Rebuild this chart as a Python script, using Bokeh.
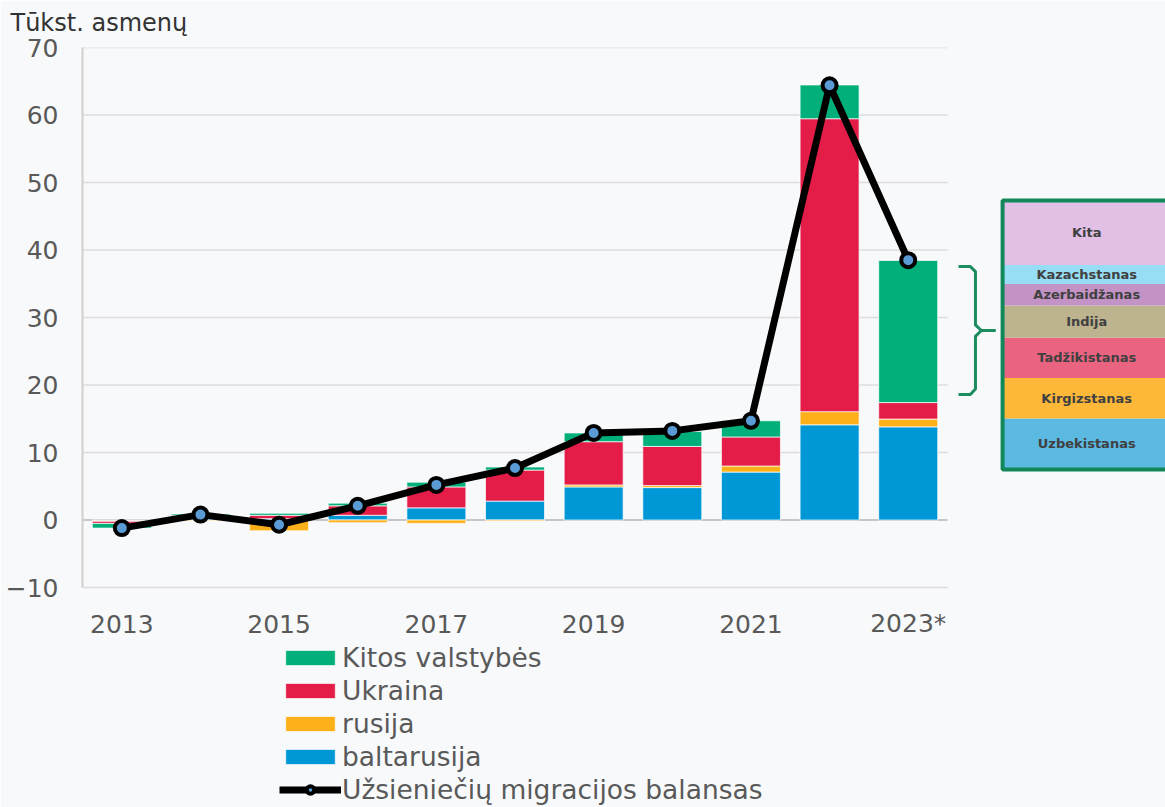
import numpy as np
from bokeh.plotting import figure
from bokeh.models import Range1d, FixedTicker, Legend, LegendItem
from bokeh.core.properties import value
from bokeh.embed import file_html
from bokeh.resources import INLINE

# ---------------- data ----------------
years = [2013, 2014, 2015, 2016, 2017, 2018, 2019, 2020, 2021, 2022, 2023]
baltarusija = [-0.1, 0.2, 0.2, 0.7, 1.8, 2.8, 4.9, 4.8, 7.1, 14.1, 13.8]
rusija = [-0.1, -0.1, -1.6, -0.4, -0.5, -0.15, 0.3, 0.3, 0.9, 1.95, 1.15]
ukraina = [-0.3, 0.5, 0.5, 1.4, 3.1, 4.6, 6.4, 5.8, 4.3, 43.4, 2.45]
kitos = [-0.7, 0.2, 0.3, 0.4, 0.7, 0.45, 1.3, 2.2, 2.4, 5.0, 21.05]
balansas = [-1.2, 0.8, -0.7, 2.1, 5.2, 7.7, 12.9, 13.2, 14.7, 64.4, 38.5]

yticks = [-10, 0, 10, 20, 30, 40, 50, 60, 70]
xticks = [2013, 2015, 2017, 2019, 2021, 2023]
xtick_labels = ["2013", "2015", "2017", "2019", "2021", "2023*"]
y_overrides = {-10: "\u221210"}

box_labels = ["Uzbekistanas", "Kirgizstanas", "Tadžikistanas", "Indija",
              "Azerbaidžanas", "Kazachstanas", "Kita"]
box_shares = [19, 15, 15, 12, 8, 7, 24]
box_colors = ["#5BB9E2", "#FDB83A", "#EA6482", "#BDB38F",
              "#C293C4", "#97DDF5", "#E2C0E6"]

# ---------------- style ----------------
C_GREEN = "#00AF7A"
C_RED = "#E31C48"
C_ORANGE = "#FDB01A"
C_BLUE = "#0097D6"
BG = "#f8f9fb"
FONT = "DejaVu Sans"
TXT = "#595959"

W, H = 1165, 807
LEFT, TOP = 82, 47
PX_PER_YEAR = 78.64
PX_PER_UNIT = 6.75
FRAME_W = W - LEFT
FRAME_H = H - TOP

p = figure(width=W, height=H, output_backend="svg", toolbar_location=None,
           x_range=Range1d(2012.5, 2012.5 + FRAME_W / PX_PER_YEAR),
           y_range=Range1d(70 - FRAME_H / PX_PER_UNIT, 70),
           min_border_left=LEFT, min_border_right=0, min_border_top=TOP,
           min_border_bottom=0)
p.background_fill_color = BG
p.border_fill_color = BG
p.outline_line_color = None
p.xgrid.visible = False
p.ygrid.visible = False
p.xaxis.visible = False

# title
p.title.text = "Tūkst. asmenų"
p.title.align = "left"
p.title.vertical_align = "top"
p.title.offset = -72
p.title.standoff = 17
p.title.text_line_height = 0.8
p.title.text_font = FONT
p.title.text_font_size = "24px"
p.title.text_font_style = "normal"
p.title.text_color = "#333333"

# y axis
p.yaxis.ticker = FixedTicker(ticks=yticks)
p.yaxis.bounds = (-10, 70)
p.yaxis.major_label_overrides = y_overrides
p.yaxis.axis_line_color = "#d0d0d0"
p.yaxis.axis_line_width = 2
p.yaxis.major_tick_line_color = None
p.yaxis.minor_tick_line_color = None
p.yaxis.major_label_standoff = 18
p.yaxis.major_label_text_font = FONT
p.yaxis.major_label_text_font_size = "25px"
p.yaxis.major_label_text_color = TXT

# x tick labels under the -10 line
p.text(x=xticks, y=[-10] * len(xticks), text=xtick_labels, y_offset=36,
       text_font=value(FONT), text_font_size="25px", text_color=TXT,
       text_align="center", text_baseline="middle")

# gridlines limited to the chart part
grid_colors = ["#c6c6c6" if t == 0 else "#dcdcdc" for t in yticks]
grid_widths = [2 if t == 0 else 1.5 for t in yticks]
p.segment(x0=[2012.5] * len(yticks), x1=[2023.5] * len(yticks), y0=yticks, y1=yticks,
          line_color=grid_colors, line_width=grid_widths)

# stacked bars
series = [("baltarusija", baltarusija, C_BLUE), ("rusija", rusija, C_ORANGE),
          ("Ukraina", ukraina, C_RED), ("Kitos valstybės", kitos, C_GREEN)]
n = len(years)
pos = np.zeros(n)
neg = np.zeros(n)
bar_r = {}
for name, vals, col in series:
    v = np.array(vals, dtype=float)
    bottom = np.where(v >= 0, pos, neg)
    top = bottom + v
    pos = np.where(v >= 0, top, pos)
    neg = np.where(v < 0, top, neg)
    bar_r[name] = p.vbar(x=years, bottom=bottom, top=top, width=0.75,
                         fill_color=col, line_color="white", line_alpha=0.7,
                         line_width=1)

# balance line
line_r = p.line(years, balansas, line_color="black", line_width=7, line_join="round")
sc_r = p.scatter(years, balansas, size=14, fill_color="#5B9BD5",
                 line_color="black", line_width=4)

# breakdown box for "Kitos valstybės" 2023
BOX_L, BOX_R, BOX_B, BOX_T = 2024.20, 2026.8, 7.48, 47.33
shares = np.array(box_shares, dtype=float)
k = (BOX_T - BOX_B) / shares.sum()
tops = BOX_B + np.cumsum(shares) * k
bots = tops - shares * k
p.quad(left=BOX_L, right=BOX_R, bottom=bots, top=tops, fill_color=box_colors,
       line_color=None)
p.quad(left=[BOX_L], right=[BOX_R], bottom=[BOX_B], top=[BOX_T], fill_color=None,
       line_color="#12885a", line_width=4)
p.text(x=[2025.27] * len(box_labels), y=(bots + tops) / 2, text=box_labels,
       text_font=value(FONT), text_font_style="bold", text_font_size="13px",
       text_color="#404040", text_align="center", text_baseline="middle")

# brace
p.multi_line(xs=[[2023.64, 2023.79, 2023.855, 2023.855, 2023.93, 2024.11],
                 [2024.11, 2023.93, 2023.855, 2023.855, 2023.79, 2023.64]],
             ys=[[37.56, 37.56, 36.8, 28.9, 28.07, 28.07],
                 [28.07, 28.07, 27.2, 19.4, 18.59, 18.59]],
             line_color="#1a8c5e", line_width=3, line_join="round")

# legend (inside the frame, which reaches the bottom of the figure)
items = [LegendItem(label="Kitos valstybės", renderers=[bar_r["Kitos valstybės"]]),
         LegendItem(label="Ukraina", renderers=[bar_r["Ukraina"]]),
         LegendItem(label="rusija", renderers=[bar_r["rusija"]]),
         LegendItem(label="baltarusija", renderers=[bar_r["baltarusija"]]),
         LegendItem(label="Užsieniečių migracijos balansas", renderers=[line_r, sc_r])]
legend = Legend(items=items, location=(197, 2), orientation="vertical",
                glyph_width=62, glyph_height=19, label_standoff=1,
                label_text_font=FONT, label_text_font_size="26.5px",
                label_text_color=TXT, label_height=30, spacing=2,
                padding=0, margin=0, border_line_color=None,
                background_fill_alpha=0)
p.add_layout(legend, "center")

open("out.html", "w").write(file_html(p, INLINE))
